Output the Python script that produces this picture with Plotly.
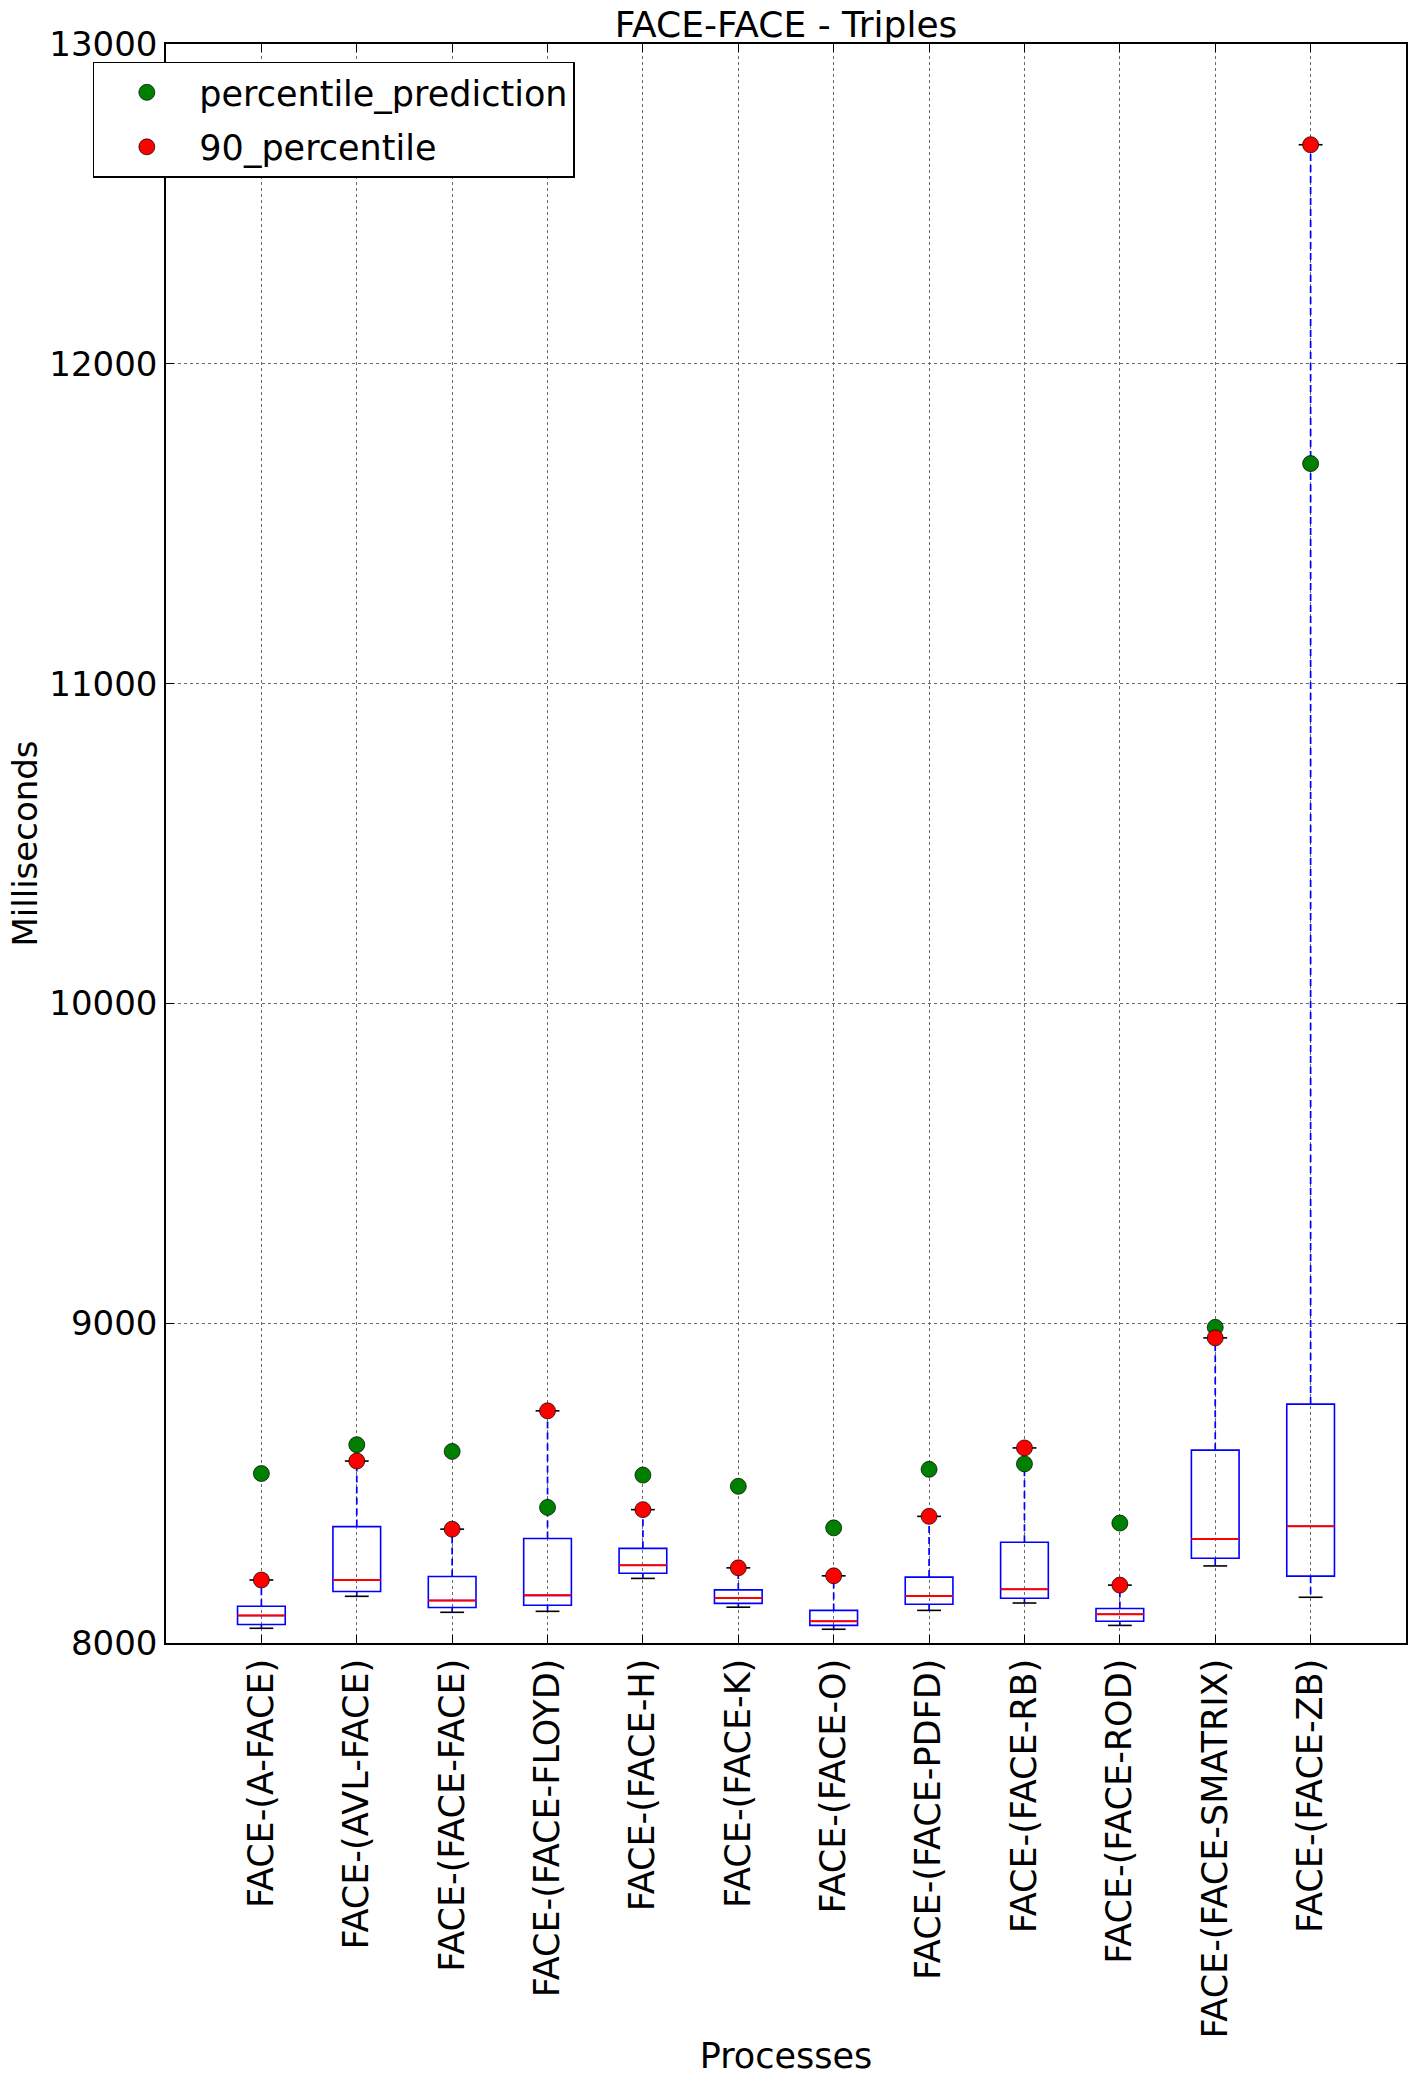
import plotly.graph_objects as go

categories = ["FACE-(A-FACE)", "FACE-(AVL-FACE)", "FACE-(FACE-FACE)", "FACE-(FACE-FLOYD)",
              "FACE-(FACE-H)", "FACE-(FACE-K)", "FACE-(FACE-O)", "FACE-(FACE-PDFD)",
              "FACE-(FACE-RB)", "FACE-(FACE-ROD)", "FACE-(FACE-SMATRIX)", "FACE-(FACE-ZB)"]
whisker_low = [8046, 8146, 8096, 8099, 8202, 8112, 8043, 8102, 8125, 8055, 8241, 8143]
q1 = [8058, 8161, 8111, 8118, 8218, 8124, 8055, 8121, 8140, 8068, 8265, 8209]
median = [8086, 8197, 8133, 8149, 8243, 8141, 8068, 8147, 8168, 8090, 8325, 8365]
q3 = [8115, 8364, 8208, 8327, 8296, 8166, 8102, 8206, 8315, 8108, 8603, 8747]
percentile_90 = [8197, 8569, 8356, 8726, 8417, 8235, 8210, 8396, 8610, 8181, 8954, 12685]
percentile_prediction = [8530, 8620, 8599, 8424, 8525, 8490, 8360, 8543, 8560, 8375, 8987, 11688]
y_ticks = [8000, 9000, 10000, 11000, 12000, 13000]

positions = list(range(1, len(categories) + 1))
BOX_W = 0.5
CAP_W = 0.25
FONT = "DejaVu Sans"

def segs(xs_pairs, ys_pairs):
    X, Y = [], []
    for (xa, xb), (ya, yb) in zip(xs_pairs, ys_pairs):
        X += [xa, xb, None]
        Y += [ya, yb, None]
    return X, Y

fig = go.Figure()

# whiskers (dashed blue)
wx, wy = segs([(p, p) for p in positions] + [(p, p) for p in positions],
              [(a, b) for a, b in zip(q3, percentile_90)] + [(a, b) for a, b in zip(q1, whisker_low)])
fig.add_trace(go.Scatter(x=wx, y=wy, mode="lines", line=dict(color="#0000ff", width=1.7, dash="7px,4px"),
                         showlegend=False, hoverinfo="skip"))

# boxes
fig.add_trace(go.Box(x=positions, q1=q1, median=median, q3=q3, lowerfence=q1, upperfence=q3,
                     width=BOX_W, line=dict(color="#0000ff", width=1.6), fillcolor="rgba(0,0,0,0)",
                     showlegend=False, hoverinfo="skip"))

# medians (red)
mx, my = segs([(p - BOX_W / 2, p + BOX_W / 2) for p in positions], [(m, m) for m in median])
fig.add_trace(go.Scatter(x=mx, y=my, mode="lines", line=dict(color="#ff0000", width=2),
                         showlegend=False, hoverinfo="skip"))

# caps (black)
cx, cy = segs([(p - CAP_W / 2, p + CAP_W / 2) for p in positions] * 2,
              [(v, v) for v in percentile_90] + [(v, v) for v in whisker_low])
fig.add_trace(go.Scatter(x=cx, y=cy, mode="lines", line=dict(color="#000000", width=1.6),
                         showlegend=False, hoverinfo="skip"))

fig.add_trace(go.Scatter(x=positions, y=percentile_prediction, mode="markers", name="percentile_prediction",
                         legendgroup="pred",
                         marker=dict(color="#008000", size=16, line=dict(color="#000000", width=0.7))))
fig.add_trace(go.Scatter(x=positions, y=percentile_90, mode="markers", name="90_percentile",
                         legendgroup="p90",
                         marker=dict(color="#ff0000", size=16, line=dict(color="#000000", width=0.7))))

axis_common = dict(showline=True, linecolor="#000000", linewidth=1.5, mirror="allticks",
                   ticks="inside", ticklen=8, tickcolor="#000000", tickwidth=1.2,
                   showgrid=True, gridcolor="#6a6a6a", griddash="dot", gridwidth=1,
                   zeroline=False, automargin=False)

fig.update_layout(
    width=1417, height=2087,
    margin=dict(l=166, r=11, t=44, b=444),
    paper_bgcolor="white", plot_bgcolor="white",
    font=dict(family=FONT, size=34, color="#000000"),
    title=dict(text="FACE-FACE - Triples", x=0.5, xref="paper", xanchor="center",
               y=1, yref="paper", yanchor="bottom", pad=dict(b=7),
               font=dict(family=FONT, size=36, color="#000000"), automargin=False),
    xaxis=dict(range=[0, 13], tickvals=positions, ticktext=categories, tickangle=-90,
               tickfont=dict(family=FONT, size=35, color="#000000"),
               title=dict(text="Processes", standoff=6, font=dict(family=FONT, size=35)),
               **axis_common),
    yaxis=dict(range=[8000, 13000], tickvals=y_ticks, ticktext=[str(v) for v in y_ticks],
               tickfont=dict(family=FONT, size=34, color="#000000"),
               title=dict(text="Milliseconds", standoff=1, font=dict(family=FONT, size=34)),
               **axis_common),
    legend=dict(x=-0.059, y=0.989, xanchor="left", yanchor="top", bgcolor="white",
                bordercolor="#000000", borderwidth=1.5, font=dict(family=FONT, size=35),
                itemwidth=95, traceorder="grouped", tracegroupgap=6),
    showlegend=True,
)

fig.write_html("out.html")
